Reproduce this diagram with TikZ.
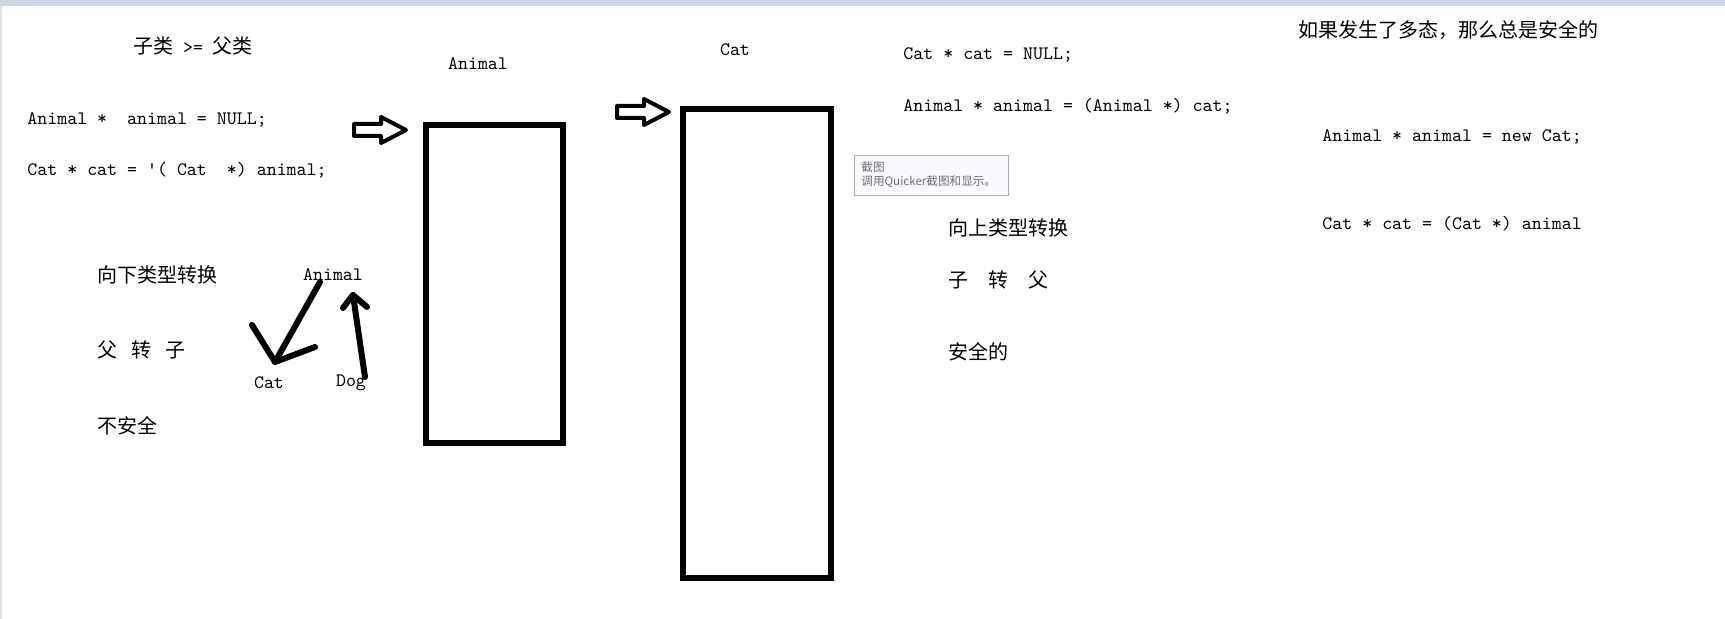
\documentclass[tikz,border=0pt]{standalone}
\usepackage{fontspec}
\newfontfamily\cjk{Noto Sans CJK SC}
\usepackage{xcolor}
\definecolor{winbar}{HTML}{CDD8E6}
\definecolor{tipfill}{HTML}{F9FAFD}
\definecolor{tipline}{HTML}{ABABAB}
\definecolor{tiptext}{HTML}{707070}
\tikzset{code/.style={font=\fontsize{9.5}{11}\selectfont\ttfamily,anchor=west,inner sep=0pt},
 zh/.style={font=\fontsize{10}{12}\selectfont\cjk,anchor=west,inner sep=0pt},
 membox/.style={draw,line width=3pt,inner sep=0pt},
 fatarrow/.style={draw,line width=2pt,fill=white,line join=round},
 scribble/.style={line width=3pt,line cap=round,line join=round},
 }

\begin{document}
\begin{tikzpicture}[x=0.5pt,y=-0.5pt]
        \useasboundingbox (0,0) rectangle (1725,619);
        \fill[winbar] (0,0) rectangle (1725,6);
        \fill[winbar!70] (0,6) rectangle (2,619);
        % left: downcast
        \node[zh,anchor=center] (rule) at (193,46) {子类{\fontsize{9.5}{11}\selectfont\ttfamily\ >=\ }父类};
        \node[code] (decl1) at (27,120) {Animal *\ \ animal = NULL;};
        \node[code] (cast1) at (27,170) {Cat * cat = '( Cat\ \ *) animal;};
        \node[zh] (down) at (97,275) {向下类型转换};
        \node[zh] (ptoc) at (97,350) {父\hspace{0.7em}转\hspace{0.7em}子};
        \node[zh] (unsafe) at (97,426) {不安全};
        \node[code,anchor=center] (base) at (333,275) {Animal};
        \node[code,anchor=center] (sub1) at (269,383) {Cat};
        \node[code,anchor=center] (sub2) at (351,383) {Dog};
        \coordinate (s1a) at (320,282);
        \coordinate (s1b) at (275,362);
        \coordinate (s2a) at (365,377);
        \coordinate (s2b) at (353,295);
        \draw[scribble] (s1a) -- (s1b);
        \draw[scribble] (252,325) -- (s1b) -- (315,347);
        \draw[scribble] (s2a) -- (s2b);
        \draw[scribble] (343,308) -- (s2b) -- (367,307);
        % memory boxes
        \node[code,anchor=center] (animallbl) at (478,64) {Animal};
        \node[membox,minimum width=68.5pt,minimum height=159pt] (animalbox) at (494.5,284) {};
        \node[code,anchor=center] (catlbl) at (735,50) {Cat};
        \node[membox,minimum width=74.25pt,minimum height=234.75pt] (catbox) at (756.75,343.75) {};
        \draw[fatarrow,shift={(354,130)}] (0,-6) -- (27,-6) -- (27,-13) -- (52,0) -- (27,13) -- (27,6) -- (0,6) -- cycle;
        \draw[fatarrow,shift={(617,112)}] (0,-6) -- (27,-6) -- (27,-13) -- (52,0) -- (27,13) -- (27,6) -- (0,6) -- cycle;
        % right: upcast
        \node[code] (decl2) at (903,55) {Cat * cat = NULL;};
        \node[code] (cast2) at (903,106) {Animal * animal = (Animal *) cat;};
        \draw[tipline,fill=tipfill] (854,155) rectangle (1008,195);
        \node[anchor=west,inner sep=0pt,text=tiptext,font=\fontsize{5.8}{7}\selectfont\cjk] (tip1) at (861,167) {截图};
        \node[anchor=west,inner sep=0pt,text=tiptext,font=\fontsize{5.8}{7}\selectfont\cjk] (tip2) at (861,182) {调用Quicker截图和显示。};
        \node[zh] (up) at (948,228) {向上类型转换};
        \node[zh] (ctop) at (948,280) {子\hspace{1em}转\hspace{1em}父};
        \node[zh] (safe) at (948,352) {安全的};
        \node[zh] (poly) at (1298,30) {如果发生了多态，那么总是安全的};
        \node[code] (newcat) at (1322,137) {Animal * animal = new Cat;};
        \node[code] (cast3) at (1322,224) {Cat * cat = (Cat *) animal};
    \end{tikzpicture}
\end{document}
